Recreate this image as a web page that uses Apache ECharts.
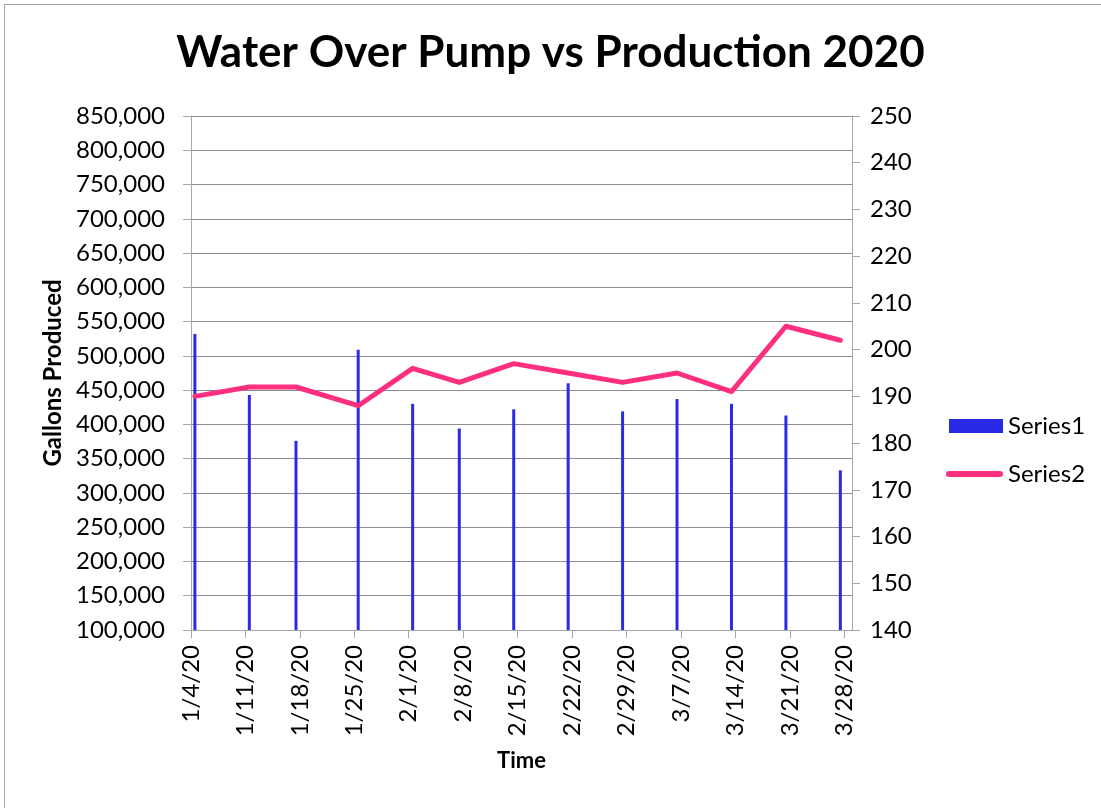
<!DOCTYPE html>
<html>
<head>
<meta charset="utf-8">
<script src="https://cdn.jsdelivr.net/npm/echarts@6/dist/echarts.min.js"></script>
<style>
  html, body { margin: 0; padding: 0; background: #ffffff; }
  #chart { width: 1101px; height: 808px; }
</style>
</head>
<body>
<div id="chart"></div>
<script>
// ---- Data ----
const axisStartDate = '2020-01-04';
const axisDays = 85;
const xTickLabels = ['1/4/20','1/11/20','1/18/20','1/25/20','2/1/20','2/8/20','2/15/20','2/22/20','2/29/20','3/7/20','3/14/20','3/21/20','3/28/20'];
const pointDates = ['2020-01-04','2020-01-11','2020-01-17','2020-01-25','2020-02-01','2020-02-07','2020-02-14','2020-02-21','2020-02-28','2020-03-06','2020-03-13','2020-03-20','2020-03-27'];
const series1Gallons = [532000, 443000, 376000, 509000, 430000, 394000, 422000, 460000, 419000, 437000, 430000, 413000, 333000];
const series2Values = [190, 192, 192, 188, 196, 193, 197, 195, 193, 195, 191, 205, 202];

const DAY = 86400000;
const start = Date.parse(axisStartDate);
// each point sits at the centre of its day on the date axis
const dayPos = pointDates.map(d => (Date.parse(d) - start) / DAY + 0.5);
const tickDays = xTickLabels.map((_, i) => i * 7);

const FONT = 'Lato';
const BAR_COLOR = '#2a2ae6';
const LINE_COLOR = '#ff2f80';
const chart = echarts.init(document.getElementById('chart'), null, { renderer: 'canvas' });
chart.setOption({
  backgroundColor: '#ffffff',
  animation: false,
  textStyle: { fontFamily: FONT },
  title: {
    text: 'Water Over Pump vs Production 2020',
    left: 'center',
    top: 26,
    padding: [5, 5, 5, 29],
    textStyle: { fontFamily: FONT, fontSize: 44, fontWeight: 'bold', color: '#000' }
  },
  graphic: [{
    type: 'rect',
    shape: { x: 4.5, y: 4.5, width: 1200, height: 900 },
    style: { fill: 'none', stroke: '#a6a6a6', lineWidth: 1 },
    silent: true
  }],
  legend: [{
    orient: 'vertical',
    left: 944,
    top: 409,
    itemWidth: 54,
    itemHeight: 14,
    textStyle: { fontFamily: FONT, fontSize: 24, color: '#000' },
    data: [{ name: 'Series1', icon: 'rect' }]
  }, {
    orient: 'vertical',
    left: 941,
    top: 457,
    itemWidth: 57,
    itemHeight: 6,
    textStyle: { fontFamily: FONT, fontSize: 24, color: '#000' },
    data: [{
      name: 'Series2',
      icon: 'path://M3,0 L54,0 A3,3 0 0 1 54,6 L3,6 A3,3 0 0 1 3,0 Z'
    }]
  }],
  grid: { left: 191, right: 249, top: 116, bottom: 178, containLabel: false },
  xAxis: {
    type: 'value',
    min: 0,
    max: axisDays,
    interval: 7,
    name: 'Time',
    nameLocation: 'middle',
    nameGap: 120,
    nameTextStyle: { fontFamily: FONT, fontSize: 22, fontWeight: 'bold', color: '#000' },
    axisLine: { show: true, lineStyle: { color: '#a6a6a6', width: 1 } },
    axisTick: { show: true, length: 8, customValues: tickDays, lineStyle: { color: '#a6a6a6' } },
    splitLine: { show: false },
    axisLabel: {
      customValues: tickDays,
      rotate: 90,
      margin: 15,
      fontSize: 24,
      color: '#000',
      fontFamily: FONT,
      padding: [0, 0, 8, 0],
      formatter: v => xTickLabels[Math.round(v / 7)] || ''
    }
  },
  yAxis: [{
    type: 'value',
    min: 100000,
    max: 850000,
    interval: 50000,
    name: 'Gallons Produced',
    nameLocation: 'middle',
    nameGap: 122,
    nameTextStyle: { fontFamily: FONT, fontSize: 24, fontWeight: 'bold', color: '#000' },
    axisLine: { show: true, lineStyle: { color: '#a6a6a6' } },
    axisTick: { show: true, length: 8, lineStyle: { color: '#a6a6a6' } },
    splitLine: { show: true, lineStyle: { color: '#8c8c8c', width: 1 } },
    axisLabel: {
      margin: 26,
      fontSize: 24,
      color: '#000',
      fontFamily: FONT,
      formatter: v => v.toLocaleString('en-US')
    }
  }, {
    type: 'value',
    min: 140,
    max: 250,
    interval: 10,
    position: 'right',
    axisLine: { show: true, lineStyle: { color: '#a6a6a6' } },
    axisTick: { show: true, length: 8, lineStyle: { color: '#a6a6a6' } },
    splitLine: { show: false },
    axisLabel: { margin: 18, fontSize: 24, color: '#000', fontFamily: FONT }
  }],
  series: [{
    name: 'Series1',
    type: 'bar',
    yAxisIndex: 0,
    barWidth: 3,
    itemStyle: { color: BAR_COLOR },
    data: dayPos.map((d, i) => [d, series1Gallons[i]])
  }, {
    name: 'Series2',
    type: 'line',
    yAxisIndex: 1,
    symbol: 'none',
    lineStyle: { color: LINE_COLOR, width: 5, cap: 'round', join: 'round' },
    itemStyle: { color: LINE_COLOR },
    data: dayPos.map((d, i) => [d, series2Values[i]])
  }]
});
</script>
</body>
</html>
